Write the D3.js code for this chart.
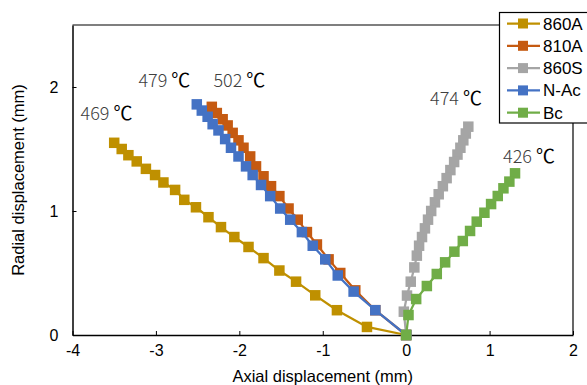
<!DOCTYPE html>
<html><head><meta charset="utf-8">
<script src="https://cdn.jsdelivr.net/npm/d3@7"></script>
<style>body{margin:0;background:#fff}svg{display:block}</style>
</head><body>
<svg id="c" width="587" height="385"></svg>
<script>
const seriesNames = ["860A","810A","860S","N-Ac","Bc"];
const seriesColors = ["#BF9000","#C55A11","#A5A5A5","#4472C4","#70AD47"];

const s860A_x = [-3.50,-3.41,-3.33,-3.23,-3.12,-3.01,-2.91,-2.77,-2.66,-2.52,-2.37,-2.22,-2.06,-1.89,-1.71,-1.52,-1.32,-1.09,-0.83,-0.47,0];
const s860A_y = [1.55,1.50,1.45,1.40,1.34,1.29,1.23,1.17,1.09,1.03,0.95,0.87,0.79,0.71,0.62,0.52,0.43,0.32,0.20,0.065,0];

const s810A_x = [-2.33,-2.27,-2.20,-2.14,-2.08,-2.01,-1.95,-1.87,-1.80,-1.71,-1.62,-1.52,-1.41,-1.30,-1.19,-1.07,-0.93,-0.79,-0.61,-0.37,0];
const s810A_y = [1.84,1.79,1.74,1.69,1.63,1.57,1.51,1.44,1.36,1.28,1.20,1.12,1.02,0.93,0.83,0.73,0.61,0.50,0.36,0.20,0];

const s860S_x = [0.745,0.715,0.685,0.650,0.615,0.575,0.530,0.485,0.440,0.390,0.345,0.300,0.262,0.225,0.190,0.155,0.128,0.098,0.055,0.010,-0.028,0];
const s860S_y = [1.68,1.625,1.57,1.51,1.455,1.395,1.33,1.265,1.20,1.135,1.07,1.00,0.93,0.86,0.79,0.72,0.64,0.545,0.43,0.318,0.188,0];

const sNAc_x = [-2.51,-2.45,-2.38,-2.32,-2.25,-2.17,-2.10,-2.01,-1.92,-1.84,-1.74,-1.63,-1.51,-1.39,-1.25,-1.12,-0.97,-0.82,-0.63,-0.37,0];
const sNAc_y = [1.86,1.81,1.76,1.70,1.65,1.58,1.51,1.44,1.36,1.29,1.21,1.12,1.02,0.93,0.83,0.72,0.61,0.48,0.35,0.20,0];

const sBc_x = [1.305,1.237,1.166,1.098,1.018,0.938,0.846,0.766,0.679,0.578,0.467,0.367,0.248,0.120,0.028,0];
const sBc_y = [1.304,1.237,1.183,1.121,1.056,0.986,0.914,0.839,0.758,0.672,0.586,0.492,0.395,0.290,0.161,0];

const xTicks = [-4,-3,-2,-1,0,1,2];
const yTicks = [0,1,2];

const labelNums = ["469","479","502","474","426"];
const labelX = [-3.904,-3.21,-2.311,0.287,1.162];
const labelY = [1.734,2.0,2.0,1.855,1.387];

const seriesX = [s860A_x,s810A_x,s860S_x,sNAc_x,sBc_x];
const seriesY = [s860A_y,s810A_y,s860S_y,sNAc_y,sBc_y];

const svg = d3.select("#c");
const L=72.5, R=573, T=25, B=335;
const x = d3.scaleLinear().domain([-4,2]).range([L,R]);
const y = d3.scaleLinear().domain([0,2.5]).range([B,T]);
const tickFont = "'Liberation Sans', Arial, sans-serif";

// frame
svg.append("path").attr("d",`M${L},${T}H500`).attr("stroke","#000").attr("stroke-width",1.2).attr("fill","none");
svg.append("path").attr("d",`M${R},123V${B}`).attr("stroke","#000").attr("stroke-width",1.2).attr("fill","none");

// axes
const xAxis = d3.axisBottom(x).tickValues(xTicks).tickSizeInner(-4).tickSizeOuter(0).tickPadding(10).tickFormat(d3.format("d"));
const gx = svg.append("g").attr("transform",`translate(0,${B})`).call(xAxis);
gx.select(".domain").attr("stroke","#000").attr("stroke-width",1.5);
gx.selectAll(".tick line").attr("stroke","#000");
gx.selectAll(".tick text").attr("font-family",tickFont).attr("font-size",16).attr("fill","#000").text(d=>d<0?"-"+Math.abs(d):d);

const yAxis = d3.axisLeft(y).tickValues(yTicks).tickSizeInner(-4).tickSizeOuter(0).tickPadding(14).tickFormat(d3.format("d"));
const gy = svg.append("g").attr("transform",`translate(${L},0)`).call(yAxis);
gy.select(".domain").attr("stroke","#000").attr("stroke-width",1.5);
gy.selectAll(".tick line").attr("stroke","#000");
gy.selectAll(".tick text").attr("font-family",tickFont).attr("font-size",16).attr("fill","#000");

svg.append("text").attr("x",(L+R)/2).attr("y",382).attr("text-anchor","middle")
  .attr("font-family",tickFont).attr("font-size",16.5).text("Axial displacement (mm)");
svg.append("text").attr("transform","translate(24,180) rotate(-90)").attr("text-anchor","middle")
  .attr("font-family",tickFont).attr("font-size",16.5).text("Radial displacement (mm)");

// series
const line = d3.line().x(d=>x(d[0])).y(d=>y(d[1]));
const ms = 10.5;
seriesNames.forEach((name,i)=>{
  const pts = seriesX[i].map((v,j)=>[v,seriesY[i][j]]);
  const g = svg.append("g");
  g.append("path").datum(pts).attr("d",line).attr("fill","none").attr("stroke",seriesColors[i]).attr("stroke-width",2.25);
  g.selectAll("rect").data(pts).join("rect")
    .attr("x",d=>x(d[0])-ms/2).attr("y",d=>y(d[1])-ms/2).attr("width",ms).attr("height",ms)
    .attr("fill",seriesColors[i]);
});

// labels
labelNums.forEach((n,i)=>{
  const t = svg.append("text").attr("x",x(labelX[i])).attr("y",y(labelY[i]))
    .attr("font-family","'Noto Sans CJK SC','Noto Sans',sans-serif").attr("font-size",18);
  t.append("tspan").attr("fill","#404040").attr("font-weight",300).text(n+" ");
  t.append("tspan").attr("fill","#000").attr("font-weight",400).attr("font-size",19).text("\u2103");
});

// legend
const lg = svg.append("g");
lg.append("rect").attr("x",499.5).attr("y",12.5).attr("width",100).attr("height",110.5)
  .attr("fill","#fff").attr("stroke","#000").attr("stroke-width",1.2);
seriesNames.forEach((name,i)=>{
  const cy = 23.5 + i*22.3;
  lg.append("line").attr("x1",507).attr("x2",540).attr("y1",cy).attr("y2",cy).attr("stroke",seriesColors[i]).attr("stroke-width",2.25);
  lg.append("rect").attr("x",518).attr("y",cy-5).attr("width",10).attr("height",10).attr("fill",seriesColors[i]);
  lg.append("text").attr("x",543).attr("y",cy+6).attr("font-family","'Liberation Sans Narrow','Arial Narrow',sans-serif")
    .attr("font-size",17).attr("fill","#000").text(name);
});
</script>
</body></html>
